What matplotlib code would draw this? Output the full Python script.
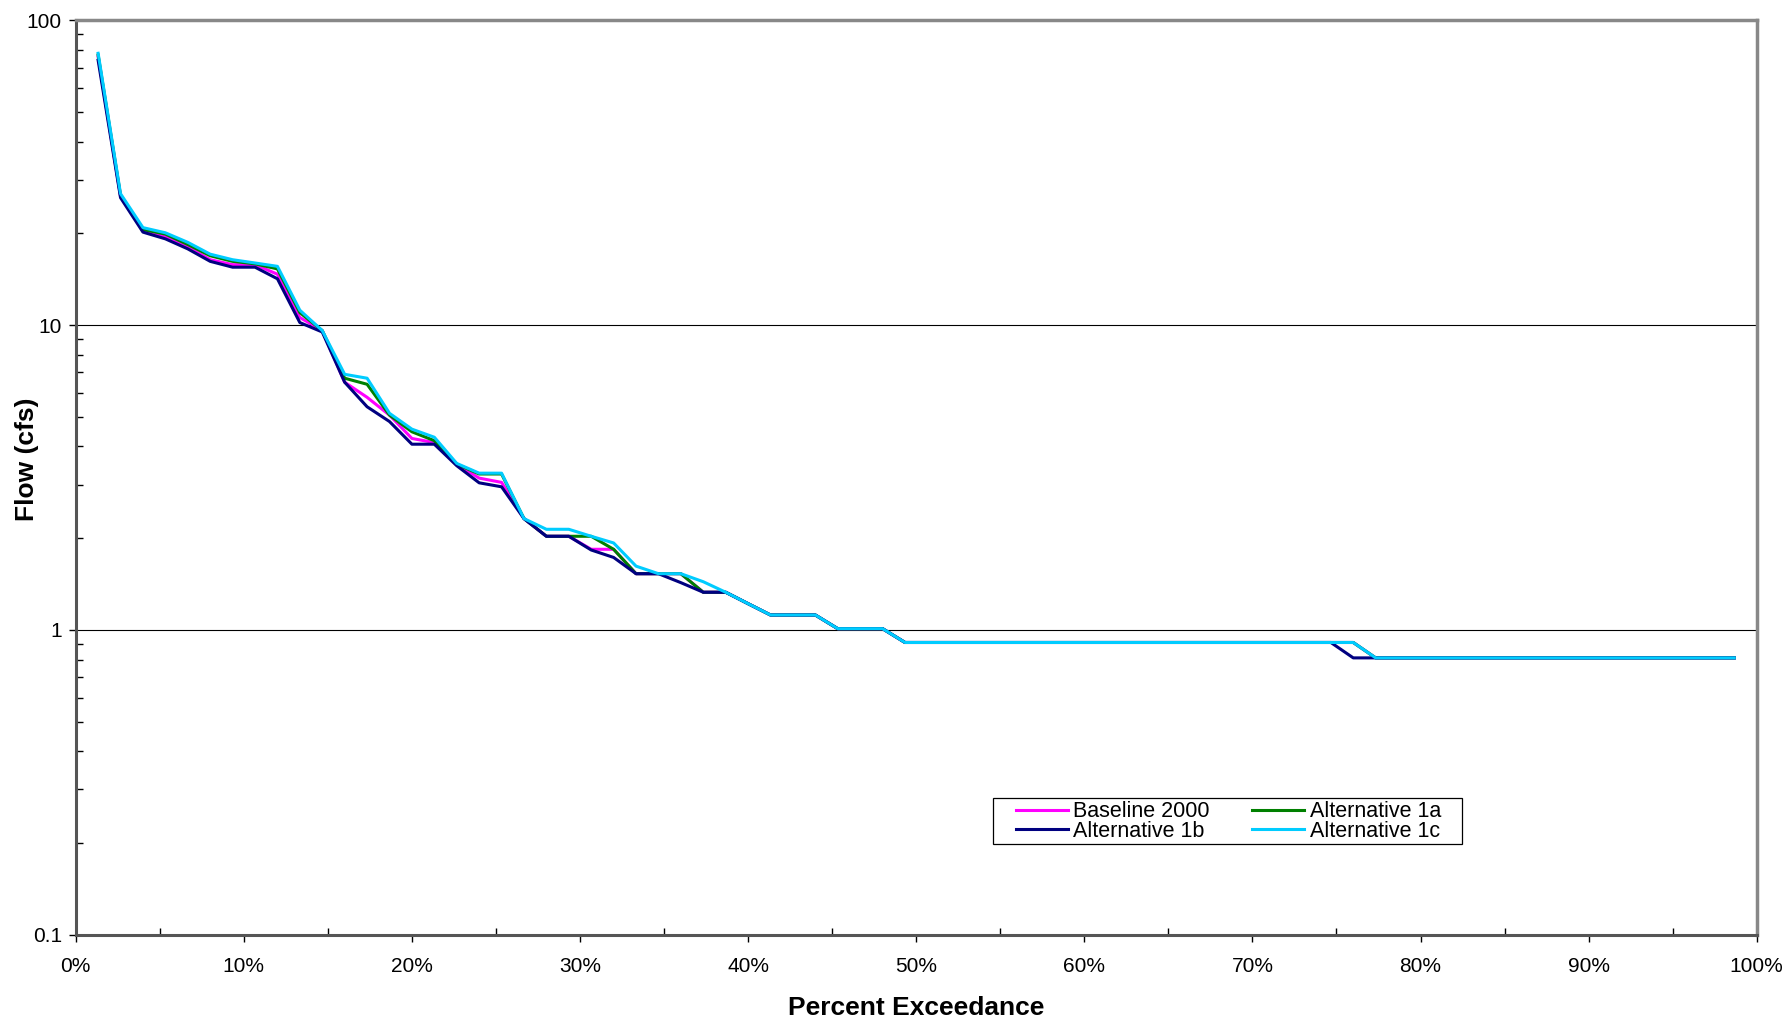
import numpy as np
import matplotlib
matplotlib.use("Agg")
import matplotlib.pyplot as plt
from matplotlib.patches import Rectangle
from matplotlib.ticker import PercentFormatter, FixedLocator, LogLocator, FuncFormatter

plt.rcParams['font.family'] = ['Liberation Sans', 'DejaVu Sans']

# flows (cfs), ranked highest to lowest, one value per year
baseline_2000 = [76, 26.5, 20.4, 19.5, 18.1, 16.4, 15.8, 15.8, 14.7, 10.6,
                 9.6, 6.5, 5.8, 5.07, 4.25, 4.12, 3.5, 3.15, 3.05, 2.32,
                 2.03, 2.03, 1.84, 1.84, 1.53, 1.53, 1.53, 1.33, 1.33, 1.22,
                 1.12, 1.12, 1.12, 1.01, 1.01, 1.01, 0.91, 0.91, 0.91, 0.91,
                 0.91, 0.91, 0.91, 0.91, 0.91, 0.91, 0.91, 0.91, 0.91, 0.91,
                 0.91, 0.91, 0.91, 0.91, 0.91, 0.91, 0.91, 0.81, 0.81, 0.81,
                 0.81, 0.81, 0.81, 0.81, 0.81, 0.81, 0.81, 0.81, 0.81, 0.81,
                 0.81, 0.81, 0.81, 0.81]
alt_1a = [77, 26.7, 20.6, 19.9, 18.4, 16.9, 16.2, 15.9, 15.3, 11.0,
          9.6, 6.7, 6.4, 5.07, 4.47, 4.18, 3.5, 3.25, 3.25, 2.32,
          2.03, 2.03, 2.03, 1.84, 1.53, 1.53, 1.53, 1.33, 1.33, 1.22,
          1.12, 1.12, 1.12, 1.01, 1.01, 1.01, 0.91, 0.91, 0.91, 0.91,
          0.91, 0.91, 0.91, 0.91, 0.91, 0.91, 0.91, 0.91, 0.91, 0.91,
          0.91, 0.91, 0.91, 0.91, 0.91, 0.91, 0.91, 0.81, 0.81, 0.81,
          0.81, 0.81, 0.81, 0.81, 0.81, 0.81, 0.81, 0.81, 0.81, 0.81,
          0.81, 0.81, 0.81, 0.81]
alt_1b = [74, 26.2, 20.2, 19.2, 17.8, 16.2, 15.5, 15.5, 14.2, 10.2,
          9.5, 6.5, 5.4, 4.83, 4.07, 4.07, 3.46, 3.04, 2.95, 2.32,
          2.03, 2.03, 1.83, 1.73, 1.53, 1.53, 1.43, 1.33, 1.33, 1.22,
          1.12, 1.12, 1.12, 1.01, 1.01, 1.01, 0.91, 0.91, 0.91, 0.91,
          0.91, 0.91, 0.91, 0.91, 0.91, 0.91, 0.91, 0.91, 0.91, 0.91,
          0.91, 0.91, 0.91, 0.91, 0.91, 0.91, 0.81, 0.81, 0.81, 0.81,
          0.81, 0.81, 0.81, 0.81, 0.81, 0.81, 0.81, 0.81, 0.81, 0.81,
          0.81, 0.81, 0.81, 0.81]
alt_1c = [78, 27.0, 20.9, 20.1, 18.7, 17.1, 16.4, 16.0, 15.6, 11.2,
          9.6, 6.9, 6.7, 5.14, 4.56, 4.29, 3.52, 3.27, 3.27, 2.32,
          2.14, 2.14, 2.03, 1.93, 1.62, 1.53, 1.53, 1.44, 1.33, 1.22,
          1.12, 1.12, 1.12, 1.01, 1.01, 1.01, 0.91, 0.91, 0.91, 0.91,
          0.91, 0.91, 0.91, 0.91, 0.91, 0.91, 0.91, 0.91, 0.91, 0.91,
          0.91, 0.91, 0.91, 0.91, 0.91, 0.91, 0.91, 0.81, 0.81, 0.81,
          0.81, 0.81, 0.81, 0.81, 0.81, 0.81, 0.81, 0.81, 0.81, 0.81,
          0.81, 0.81, 0.81, 0.81]

n = len(baseline_2000)
exceedance = np.arange(1, n + 1) / (n + 1)  # weibull plotting position

y_ticks = [0.1, 1, 10, 100]

fig = plt.figure(figsize=(17.88, 10.21), dpi=100)
ax = fig.add_axes([0.04234, 0.08443, 0.94016, 0.89559])

l1, = ax.plot(exceedance, baseline_2000, color='#FF00FF', lw=2.2, label='Baseline 2000')
l2, = ax.plot(exceedance, alt_1a, color='#008000', lw=2.2, label='Alternative 1a')
l3, = ax.plot(exceedance, alt_1b, color='#000080', lw=2.2, label='Alternative 1b')
l4, = ax.plot(exceedance, alt_1c, color='#00CCFF', lw=2.2, label='Alternative 1c')

ax.set_yscale('log')
ax.set_ylim(0.1, 100)
ax.set_xlim(0, 1)

ax.yaxis.set_major_locator(FixedLocator(y_ticks))
ax.yaxis.set_major_formatter(FuncFormatter(lambda v, p: '%g' % v))
ax.yaxis.set_minor_locator(LogLocator(base=10, subs=np.arange(2, 10)))
ax.yaxis.set_minor_formatter(FuncFormatter(lambda v, p: ''))
ax.set_xticks(np.arange(0, 1.01, 0.1))
ax.set_xticks(np.arange(0.05, 1, 0.1), minor=True)
ax.xaxis.set_major_formatter(PercentFormatter(xmax=1, decimals=0))

ax.grid(axis='y', which='major', color='black', lw=0.8)

ax.tick_params(axis='both', which='major', direction='out', length=5, width=1,
               labelsize=15, color='black')
ax.tick_params(axis='y', which='major', pad=5)
ax.tick_params(axis='x', which='major', pad=11)
ax.tick_params(axis='both', which='minor', direction='in', length=5, width=1, color='black')

for s in ['left', 'bottom']:
    ax.spines[s].set_color('#555555')
    ax.spines[s].set_linewidth(2.2)
for s in ['top', 'right']:
    ax.spines[s].set_color('#888888')
    ax.spines[s].set_linewidth(2.5)

ax.set_xlabel('Percent Exceedance', fontsize=19, fontweight='bold')
ax.set_ylabel('Flow (cfs)', fontsize=19, fontweight='bold')
ax.xaxis.set_label_coords(0.5, -0.0665)
ax.yaxis.set_label_coords(-0.0221, 0.5196)

# legend box drawn separately so it can be wider than its tight rows
ax.add_patch(Rectangle((0.5457, 0.0996), 0.2789, 0.05, transform=ax.transAxes,
                       facecolor='white', edgecolor='black', lw=0.9, zorder=5))
leg = ax.legend(handles=[l1, l3, l2, l4], ncol=2, loc='lower left',
                bbox_to_anchor=(0.5593, 0.1015), borderaxespad=0,
                fontsize=15.5, frameon=False,
                handlelength=2.4, handletextpad=0.25, columnspacing=2.0,
                labelspacing=-0.05, borderpad=0)
leg.set_zorder(6)

plt.savefig('out.png', dpi=100)
